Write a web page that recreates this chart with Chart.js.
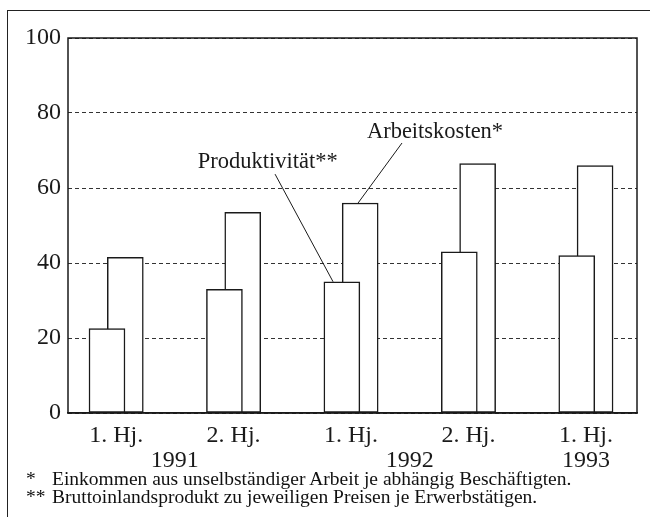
<!DOCTYPE html>
<html lang="de">
  <head>
    <meta charset="UTF-8" />
    <title>Produktivität und Arbeitskosten</title>
    <script src="https://cdn.jsdelivr.net/npm/chart.js"></script>
    <style>
      body {
        margin: 0;
        background: #fff;
      }
      .page {
        position: relative;
        width: 650px;
        height: 517px;
        overflow: hidden;
        font-family: "Liberation Serif", "DejaVu Serif", serif;
        color: #111;
      }
      .frame {
        position: absolute;
        left: 7px;
        top: 10px;
        width: 700px;
        height: 600px;
        border-left: 1.5px solid #222;
        border-top: 1.5px solid #222;
      }
      .chart-box {
        position: absolute;
        left: 0;
        top: 0;
        width: 650px;
        height: 475px;
      }
      .notes {
        position: absolute;
        left: 26px;
        top: 470px;
        font-size: 19.5px;
        line-height: 18px;
      }
      .notes span {
        display: inline-block;
        width: 26px;
      }
    </style>
  </head>
  <body>
    <div class="page">
      <div class="frame"></div>
      <div class="chart-box">
        <canvas id="chart"></canvas>
      </div>
      <div class="notes">
        <div><span>*</span>Einkommen aus unselbständiger Arbeit je abhängig Beschäftigten.</div>
        <div><span>**</span>Bruttoinlandsprodukt zu jeweiligen Preisen je Erwerbstätigen.</div>
      </div>
    </div>

    <script>
      // Daten
      const periodLabels = ["1. Hj.", "2. Hj.", "1. Hj.", "2. Hj.", "1. Hj."];
      const yearLabels = ["1991", "1992", "1993"];
      const yearTickAt = [0.5, 2.5, 4];
      const produktivitaet = [22.5, 33, 35, 43, 42];
      const arbeitskosten = [41.5, 53.5, 56, 66.5, 66];
      const yTicks = [0, 20, 40, 60, 80, 100];

      const serif = "'Liberation Serif', 'DejaVu Serif', serif";
      const ink = "#1a1a1a";
      const pairShift = 0.078; // halbe Verschiebung der überlappenden Säulen

      // Beschriftungen mit Hinweislinie (Datenkoordinaten)
      const callouts = [
        { text: "Produktivität**", dataset: 0, index: 2, tx: 1.29, ty: 66.9, sx: 1.353, sy: 63.7, ex: 1.847 },
        { text: "Arbeitskosten*", dataset: 1, index: 2, tx: 2.715, ty: 74.9, sx: 2.434, sy: 72, ex: 2.06 },
      ];

      const framePlugin = {
        id: "frame",
        beforeDatasetsDraw(chart) {
          const { ctx, chartArea: a } = chart;
          ctx.save();
          ctx.strokeStyle = ink;
          ctx.lineWidth = 1.5;
          ctx.strokeRect(a.left, a.top, a.right - a.left, a.bottom - a.top);
          ctx.restore();
        },
      };

      const calloutPlugin = {
        id: "callouts",
        afterDatasetsDraw(chart) {
          const { ctx } = chart;
          const xs = chart.scales.x;
          const ys = chart.scales.y;
          const series = [produktivitaet, arbeitskosten];
          ctx.save();
          ctx.fillStyle = ink;
          ctx.strokeStyle = ink;
          ctx.lineWidth = 1;
          ctx.font = "22.5px " + serif;
          ctx.textAlign = "center";
          ctx.textBaseline = "middle";
          callouts.forEach((c) => {
            ctx.fillText(c.text, xs.getPixelForValue(c.tx), ys.getPixelForValue(c.ty));
            ctx.beginPath();
            ctx.moveTo(xs.getPixelForValue(c.sx), ys.getPixelForValue(c.sy));
            ctx.lineTo(xs.getPixelForValue(c.ex), ys.getPixelForValue(series[c.dataset][c.index]));
            ctx.stroke();
          });

          // Jahreszahlen unter den Halbjahren
          ctx.font = "24px " + serif;
          ctx.textBaseline = "middle";
          yearLabels.forEach((label, i) => {
            ctx.fillText(label, xs.getPixelForValue(yearTickAt[i]), xs.top + 48);
          });
          ctx.restore();
        },
      };

      new Chart(document.getElementById("chart"), {
        type: "bar",
        data: {
          datasets: [
            {
              label: "Produktivität",
              data: produktivitaet.map((v, i) => ({ x: i - pairShift, y: v })),
              backgroundColor: "#fff",
              borderColor: ink,
              borderWidth: 1.5,
              borderSkipped: false,
              grouped: false,
              barThickness: 36,
            },
            {
              label: "Arbeitskosten",
              data: arbeitskosten.map((v, i) => ({ x: i + pairShift, y: v })),
              backgroundColor: "#fff",
              borderColor: ink,
              borderWidth: 1.5,
              borderSkipped: false,
              grouped: false,
              barThickness: 36,
            },
          ],
        },
        options: {
          responsive: true,
          maintainAspectRatio: false,
          animation: false,
          events: [],
          layout: { padding: { top: 38, right: 13, left: 0, bottom: 0 } },
          plugins: {
            legend: { display: false },
            tooltip: { enabled: false },
          },
          scales: {
            x: {
              type: "linear",
              min: -0.41,
              max: 4.435,
              offset: false,
              grid: { display: false, offset: false },
              border: { display: true, color: ink, width: 1.5 },
              afterBuildTicks: (scale) => {
                scale.ticks = periodLabels.map((_, i) => ({ value: i }));
              },
              afterFit: (scale) => {
                scale.height = 62;
              },
              ticks: {
                autoSkip: false,
                maxRotation: 0,
                padding: 0,
                color: ink,
                font: { family: serif, size: 24 },
                callback: (value, index) => periodLabels[index],
              },
            },
            y: {
              min: 0,
              max: 100,
              afterBuildTicks: (scale) => {
                scale.ticks = yTicks.map((v) => ({ value: v }));
              },
              afterFit: (scale) => {
                scale.width = 68;
              },
              grid: {
                color: "#333",
                lineWidth: 1,
                drawTicks: false,
              },
              border: { display: false, dash: [4, 3] },
              ticks: {
                padding: 7,
                color: ink,
                font: { family: serif, size: 24 },
              },
            },
          },
        },
        plugins: [framePlugin, calloutPlugin],
      });
    </script>
  </body>
</html>
